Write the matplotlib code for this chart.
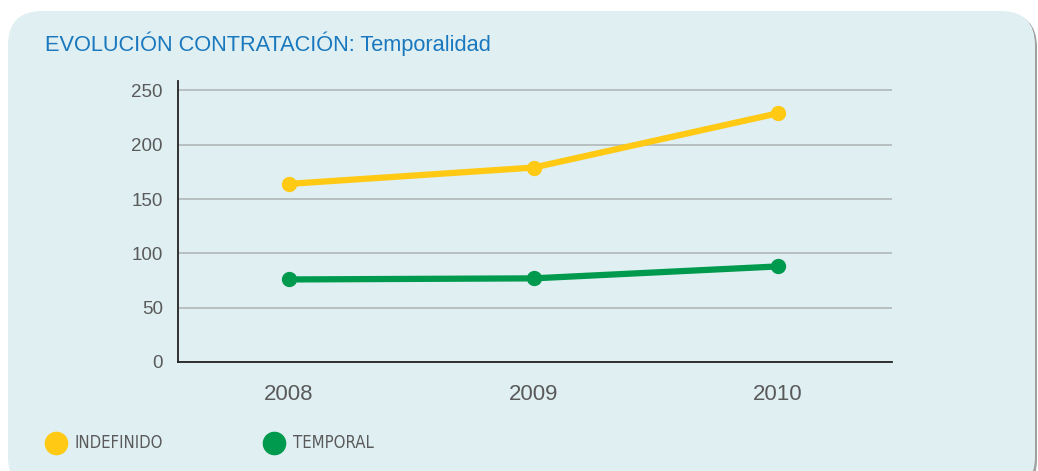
import matplotlib
matplotlib.use("Agg")
import matplotlib.pyplot as plt
from matplotlib.patches import FancyBboxPatch
from matplotlib.lines import Line2D

plt.rcParams["font.family"] = ["Liberation Sans", "DejaVu Sans"]

years = [2008, 2009, 2010]
indefinido = [164, 179, 229]
temporal = [76, 77, 88]
y_ticks = [0, 50, 100, 150, 200, 250]

YELLOW = "#ffc914"
GREEN = "#009a4e"
PANEL = "#dfeff2"
TEXT = "#5a5a5a"

W, H = 1038, 471
fig = plt.figure(figsize=(W / 100, H / 100), dpi=100)
fig.patch.set_facecolor("white")

# rounded panel with a soft shadow at the lower right
shadow = FancyBboxPatch((10 / W, -23 / H), 1027 / W, 481 / H,
                        boxstyle="round,pad=0,rounding_size=0.033",
                        transform=fig.transFigure, facecolor="#a0a0a0",
                        edgecolor="none", mutation_aspect=W / H, zorder=0)
panel = FancyBboxPatch((8 / W, -20 / H), 1027 / W, 480 / H,
                       boxstyle="round,pad=0,rounding_size=0.033",
                       transform=fig.transFigure, facecolor=PANEL,
                       edgecolor="none", mutation_aspect=W / H, zorder=1)
fig.patches.extend([shadow, panel])

fig.text(45 / W, 1 - 44 / H, "EVOLUCIÓN CONTRATACIÓN: Temporalidad",
         color="#1a78be", fontsize=15.7, va="center", ha="left")

ax = fig.add_axes([178 / W, 1 - 362 / H, (892 - 178) / W, (362 - 81) / H])
ax.set_facecolor("none")
ax.set_zorder(2)

ax.plot(years, indefinido, color=YELLOW, lw=4.5, marker="o", ms=10,
        solid_capstyle="round", zorder=3)
ax.plot(years, temporal, color=GREEN, lw=4.5, marker="o", ms=10,
        solid_capstyle="round", zorder=3)

ax.set_xlim(2007.546, 2010.466)
ax.set_ylim(0, 258.7)
ax.set_yticks(y_ticks)
ax.set_xticks(years)
ax.set_xticklabels([str(y) for y in years])
ax.yaxis.grid(True, color="#b4bcbc", lw=1.3)
ax.set_axisbelow(True)
for s in ("top", "right"):
    ax.spines[s].set_visible(False)
for s in ("left", "bottom"):
    ax.spines[s].set_color("#222222")
    ax.spines[s].set_linewidth(1.3)
ax.tick_params(axis="y", length=0, pad=11, labelsize=13.5, labelcolor=TEXT)
ax.tick_params(axis="x", length=0, pad=16, labelsize=16, labelcolor=TEXT)

# legend row at the bottom of the panel
for x0, col, label in [(56, YELLOW, "INDEFINIDO"), (274, GREEN, "TEMPORAL")]:
    fig.add_artist(Line2D([x0 / W], [1 - 443 / H], marker="o", ms=16,
                          color=col, lw=0, transform=fig.transFigure, zorder=3))
    fig.text((x0 + 19) / W, 1 - 443 / H, label, color=TEXT, fontsize=12,
             family="DejaVu Sans", fontstretch="condensed",
             va="center", ha="left", zorder=3)

fig.savefig("out.png", dpi=100, facecolor=fig.get_facecolor())
